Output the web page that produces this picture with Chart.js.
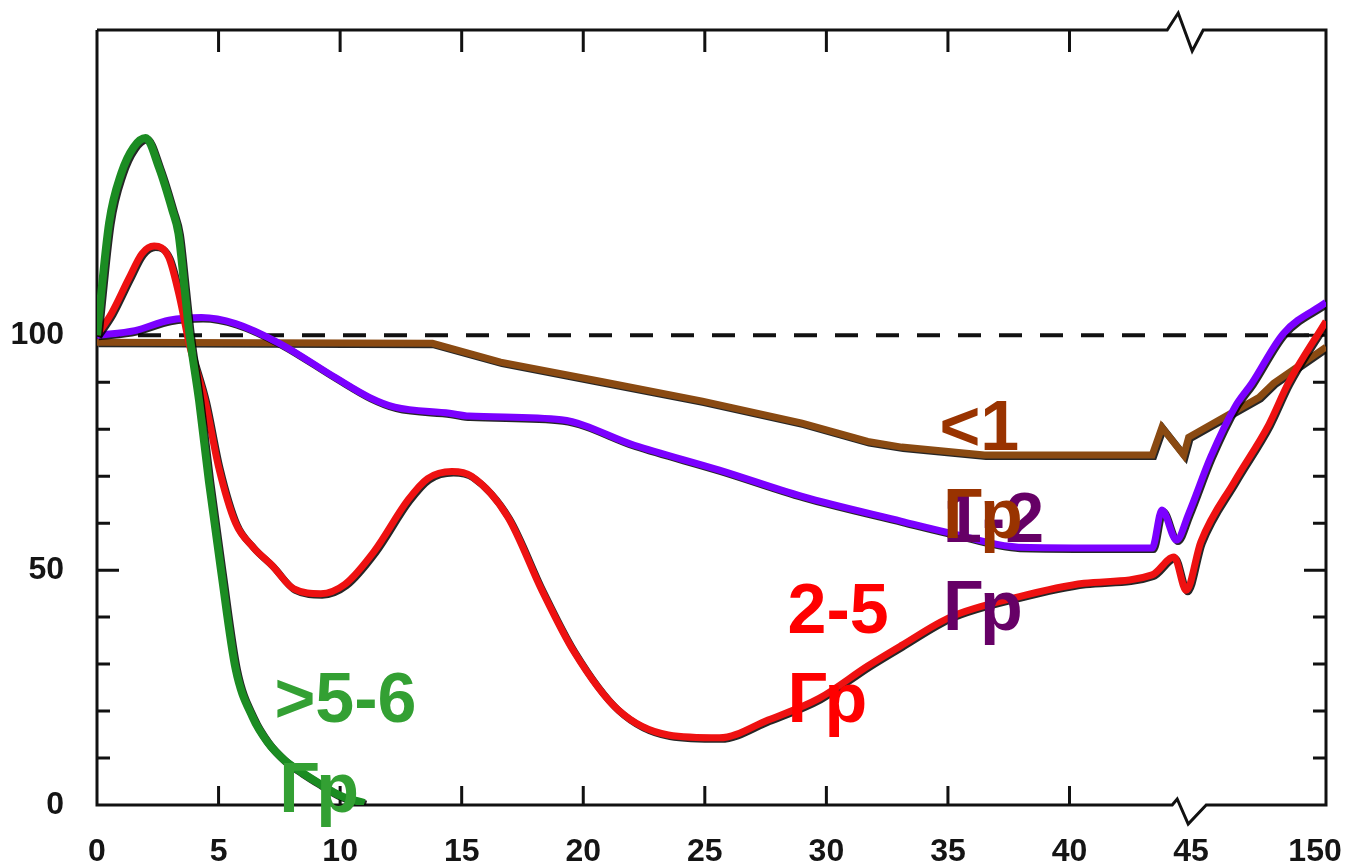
<!DOCTYPE html>
<html>
<head>
<meta charset="utf-8">
<script src="https://cdn.jsdelivr.net/npm/chart.js@4.4.1/dist/chart.umd.min.js"></script>
<style>
  html, body { margin: 0; padding: 0; background: #fff; }
  #wrap { width: 1347px; height: 866px; }
</style>
</head>
<body>
<div id="wrap"><canvas id="chart"></canvas></div>
<script>
// x is the display position on a broken axis: 0..45 linear, then a break, right edge = 150
const xTickPos = [0, 5, 10, 15, 20, 25, 30, 35, 40, 45, 50.1];
const xTickLabels = ['0', '5', '10', '15', '20', '25', '30', '35', '40', '45', '150'];
const yTickValues = [0, 50, 100];
const xMax = 50.55;
const breakAt = 44.8;

// >5-6 Гр
const greenX = [0, 0.5, 1.0, 1.5, 2.0, 2.55, 3.1, 3.35, 3.6, 3.8, 4.2, 4.6, 5.1, 5.7, 6.4, 7.0, 7.7, 8.4, 9.1, 10.0, 11.0];
const greenY = [100, 124, 134.5, 140, 142, 135.7, 126.6, 121.7, 110, 100.4, 86, 69, 50, 29, 18.7, 13.5, 9.6, 7, 4.7, 2, 0.4];

// 2-5 Гр
const redX = [0, 0.6, 1.3, 1.85, 2.35, 2.95, 3.4, 3.8, 4.45, 5.0, 5.7, 6.4, 7.2, 8.1, 9.2, 10.2, 11.4, 12.8, 13.6, 14.6, 15.4, 16.9, 18.3, 19.6, 21.4, 23.5, 25.6, 27.6, 29.7, 31.7, 33.1, 35.1, 37.9, 40.6, 43.4, 44.3, 44.8, 45.4, 46.8, 48.2, 49.0, 50.55];
const redY = [100, 104.7, 112, 117.4, 119, 116.6, 108, 98, 86, 72, 60, 55, 51, 46, 45, 47, 54, 65, 69.5, 71, 70, 61.3, 45.7, 32.8, 20.4, 14.9, 14.3, 18.1, 22.7, 29.6, 34, 40, 44.3, 47.2, 49, 52.8, 45.7, 56, 69, 81, 89.8, 103];

// 1-2 Гр
const purpleX = [0, 1.56, 2.96, 4.3, 5.7, 7.5, 9.8, 11.2, 12.25, 14.5, 15.3, 19.1, 22.1, 25.6, 29.0, 33.1, 35.1, 37.9, 43.4, 43.8, 44.4, 44.9, 45.8, 46.8, 47.5, 48.8, 50.55];
const purpleY = [100, 101, 103.2, 103.8, 102.5, 98.3, 91, 86.8, 84.7, 83.4, 82.8, 82, 76.6, 71.3, 65.7, 60.4, 57.9, 54.9, 54.7, 62.8, 56.4, 62, 74, 84.7, 89.8, 100.4, 107];

// <1 Гр
const brownX = [0, 13.8, 16.6, 20.8, 24.9, 29.0, 31.7, 33.1, 36.5, 43.4, 43.8, 44.7, 44.9, 47.8, 48.4, 50.55];
const brownY = [98.5, 98.3, 94.3, 90.1, 86, 81.3, 77.4, 76.2, 74.5, 74.5, 80.4, 74.5, 78.3, 86.8, 89.8, 97.5];

const refX = [0, xMax];
const refY = [100, 100];

// text labels next to the curves (left edge x, baseline y in data units)
const notes = [
  { text: '>5-6', x: 7.3, y: 17.7, color: '#33a033' },
  { text: 'Гр', x: 7.5, y: -1.5, color: '#33a033' },
  { text: '2-5', x: 28.4, y: 36.6, color: '#ff0000' },
  { text: 'Гр', x: 28.4, y: 17.7, color: '#ff0000' },
  { text: '1-2', x: 34.8, y: 56, color: '#660066' },
  { text: 'Гр', x: 34.8, y: 37.2, color: '#660066' },
  { text: '<1', x: 34.65, y: 75.5, color: '#993300' },
  { text: 'Гр', x: 34.8, y: 56.8, color: '#993300' }
];

const zip = (xs, ys) => xs.map((x, i) => ({ x, y: ys[i] }));

const curve = (data, color, width, order) => ({
  data, borderColor: color, borderWidth: width, pointRadius: 0,
  cubicInterpolationMode: 'monotone', fill: false, order, outline: true
});

// frame, inward ticks and axis breaks
const framePlugin = {
  id: 'frame',
  beforeDatasetsDraw(chart) {
    const { ctx, chartArea: a, scales: { x, y } } = chart;
    const bx = x.getPixelForValue(breakAt);
    ctx.save();
    ctx.strokeStyle = '#111';
    ctx.lineWidth = 3;
    ctx.lineJoin = 'miter';
    ctx.beginPath();
    ctx.moveTo(a.left, a.top);
    ctx.lineTo(a.left, a.bottom);
    ctx.lineTo(bx - 14, a.bottom);
    ctx.lineTo(bx - 9, a.bottom - 6);
    ctx.lineTo(bx + 2, a.bottom + 19);
    ctx.lineTo(bx + 20, a.bottom);
    ctx.lineTo(a.right, a.bottom);
    ctx.lineTo(a.right, a.top);
    ctx.lineTo(bx + 17, a.top);
    ctx.lineTo(bx + 6, a.top + 21);
    ctx.lineTo(bx - 8, a.top - 17);
    ctx.lineTo(bx - 19, a.top);
    ctx.lineTo(a.left, a.top);
    ctx.stroke();

    ctx.beginPath();
    for (let v = 10; v <= 100; v += 10) {
      const py = y.getPixelForValue(v);
      const len = v % 50 === 0 ? 22 : 13;
      ctx.moveTo(a.left, py); ctx.lineTo(a.left + len, py);
      ctx.moveTo(a.right, py); ctx.lineTo(a.right - len, py);
    }
    for (let v = 5; v <= 40; v += 5) {
      const px = x.getPixelForValue(v);
      ctx.moveTo(px, a.bottom); ctx.lineTo(px, a.bottom - 19);
      ctx.moveTo(px, a.top); ctx.lineTo(px, a.top + 22);
    }
    ctx.stroke();
    ctx.restore();
  },
  beforeDatasetDraw(chart, args) {
    if (!args.meta._dataset.outline) return;
    const ctx = chart.ctx;
    ctx.save();
    ctx.shadowColor = 'rgba(0,0,0,0.85)';
    ctx.shadowOffsetX = 1.5;
    ctx.shadowOffsetY = 1.5;
    ctx.shadowBlur = 0;
  },
  afterDatasetDraw(chart, args) {
    if (!args.meta._dataset.outline) return;
    chart.ctx.restore();
  },
  afterDatasetsDraw(chart) {
    const { ctx, scales: { x, y } } = chart;
    ctx.save();
    ctx.font = '700 70px "Liberation Sans", Arial, sans-serif';
    ctx.textAlign = 'left';
    ctx.textBaseline = 'alphabetic';
    notes.forEach(n => {
      ctx.fillStyle = n.color;
      ctx.fillText(n.text, x.getPixelForValue(n.x), y.getPixelForValue(n.y));
    });
    ctx.restore();
  }
};

const tickFont = { family: '"Liberation Sans", Arial, sans-serif', size: 32, weight: 'bold' };

new Chart(document.getElementById('chart'), {
  type: 'line',
  data: {
    datasets: [
      curve(zip(greenX, greenY), '#1b8c22', 8, 1),
      curve(zip(redX, redY), '#ee1111', 7, 2),
      curve(zip(purpleX, purpleY), '#7b00ff', 7, 3),
      { ...curve(zip(brownX, brownY), '#8a4a12', 7, 4), cubicInterpolationMode: 'default', tension: 0 },
      {
        data: zip(refX, refY), borderColor: '#111', borderWidth: 4, borderDash: [23, 18],
        pointRadius: 0, tension: 0, order: 5
      }
    ]
  },
  options: {
    responsive: true,
    maintainAspectRatio: false,
    animation: false,
    layout: { padding: { top: 30, right: 21, left: 0, bottom: 0 } },
    plugins: { legend: { display: false }, tooltip: { enabled: false } },
    scales: {
      x: {
        type: 'linear', min: 0, max: xMax,
        grid: { display: false }, border: { display: false },
        afterBuildTicks: s => { s.ticks = xTickPos.map(v => ({ value: v })); },
        afterFit: s => { s.height = 61; s.paddingLeft = 0; s.paddingRight = 0; },
        ticks: {
          padding: 20, color: '#151515', font: tickFont, maxRotation: 0, autoSkip: false,
          callback: (v, i) => xTickLabels[i]
        }
      },
      y: {
        min: 0, max: 165,
        grid: { display: false }, border: { display: false },
        afterBuildTicks: s => { s.ticks = yTickValues.map(v => ({ value: v })); },
        afterFit: s => { s.width = 97; s.paddingTop = 0; s.paddingBottom = 0; },
        ticks: { padding: 25, color: '#151515', font: tickFont, callback: v => String(v) }
      }
    }
  },
  plugins: [framePlugin]
});
</script>
</body>
</html>
